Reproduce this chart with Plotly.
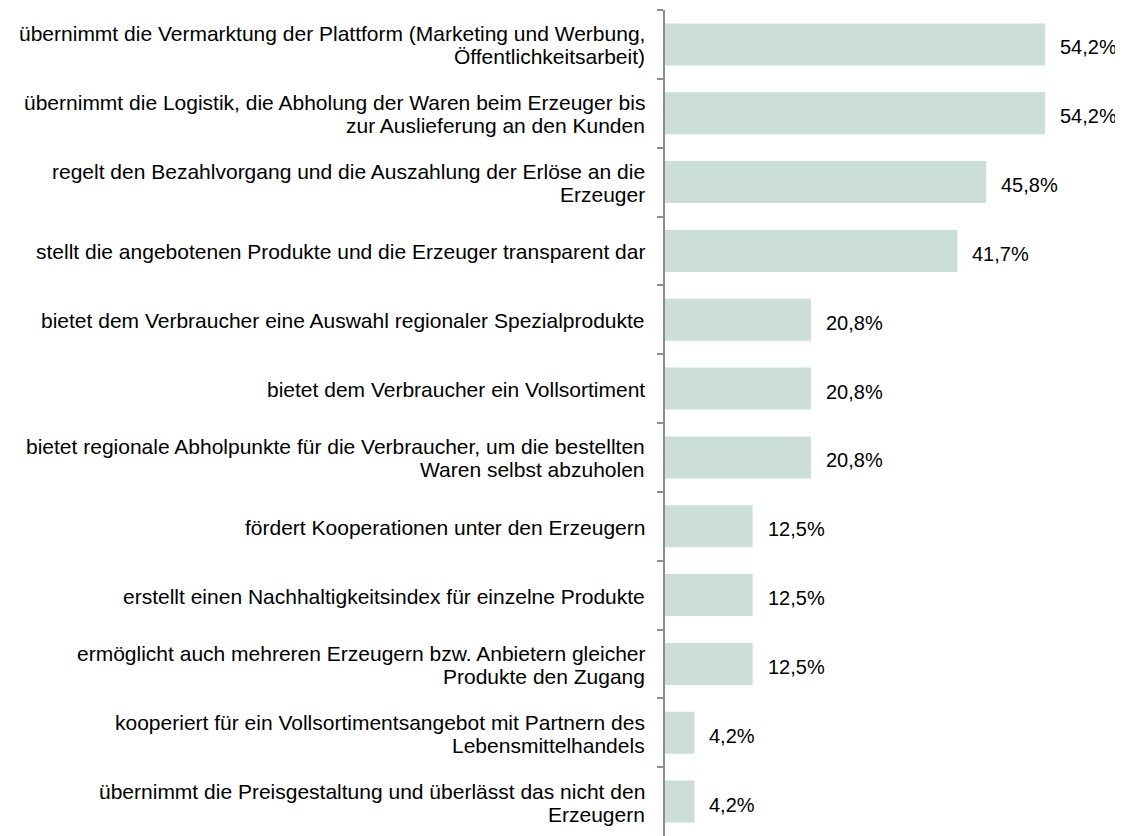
import plotly.graph_objects as go

categories = [
    "übernimmt die Vermarktung der Plattform (Marketing und Werbung,<br>Öffentlichkeitsarbeit)",
    "übernimmt die Logistik, die Abholung der Waren beim Erzeuger bis<br>zur Auslieferung an den Kunden",
    "regelt den Bezahlvorgang und die Auszahlung der Erlöse an die<br>Erzeuger",
    "stellt die angebotenen Produkte und die Erzeuger transparent dar",
    "bietet dem Verbraucher eine Auswahl regionaler Spezialprodukte",
    "bietet dem Verbraucher ein Vollsortiment",
    "bietet regionale Abholpunkte für die Verbraucher, um die bestellten<br>Waren selbst abzuholen",
    "fördert Kooperationen unter den Erzeugern",
    "erstellt einen Nachhaltigkeitsindex für einzelne Produkte",
    "ermöglicht auch mehreren Erzeugern bzw. Anbietern gleicher<br>Produkte den Zugang",
    "kooperiert für ein Vollsortimentsangebot mit Partnern des<br>Lebensmittelhandels",
    "übernimmt die Preisgestaltung und überlässt das nicht den<br>Erzeugern",
]
values = [54.2, 54.2, 45.8, 41.7, 20.8, 20.8, 20.8, 12.5, 12.5, 12.5, 4.2, 4.2]
value_labels = ["54,2%", "54,2%", "45,8%", "41,7%", "20,8%", "20,8%", "20,8%",
                "12,5%", "12,5%", "12,5%", "4,2%", "4,2%"]

FONT = "Liberation Sans, Arial"
LINE_H = 23

fig = go.Figure()
fig.add_trace(go.Bar(
    x=values, y=categories, orientation="h",
    marker=dict(color="#CCDED8", line=dict(width=0)),
    width=0.61, hoverinfo="skip",
))
for v, c, t in zip(values, categories, value_labels):
    fig.add_annotation(x=v, y=c, text=t, showarrow=False, xanchor="left",
                       xshift=13, yshift=-3,
                       font=dict(family=FONT, size=20, color="#000000"))
# category labels, one annotation per line to control line spacing
for c in categories:
    lines = c.split("<br>")
    n = len(lines)
    for i, ln in enumerate(lines):
        off = ((n - 1) / 2 - i) * LINE_H
        fig.add_annotation(x=0, xref="paper", y=c, text=ln, showarrow=False,
                           xanchor="right", xshift=-18, yshift=off - 1,
                           font=dict(family=FONT, size=21, color="#000000"))

# the page body adds an 8px offset, so the figure is 8px smaller
fig.update_layout(
    width=1115, height=828,
    margin=dict(l=657, r=0, t=2, b=0),
    plot_bgcolor="white", paper_bgcolor="white",
    showlegend=False,
    font=dict(family=FONT, size=20, color="#000000"),
    xaxis=dict(range=[0, 65.3], visible=False, automargin=False),
    yaxis=dict(
        type="category", categoryorder="array", categoryarray=categories,
        autorange="reversed", automargin=False,
        showline=True, linecolor="#8C8C8C", linewidth=2,
        ticks="outside", ticklen=6, tickcolor="#8C8C8C", tickwidth=2,
        tickson="boundaries", showticklabels=False,
        showgrid=False, zeroline=False,
    ),
)
fig.write_html("out.html")
